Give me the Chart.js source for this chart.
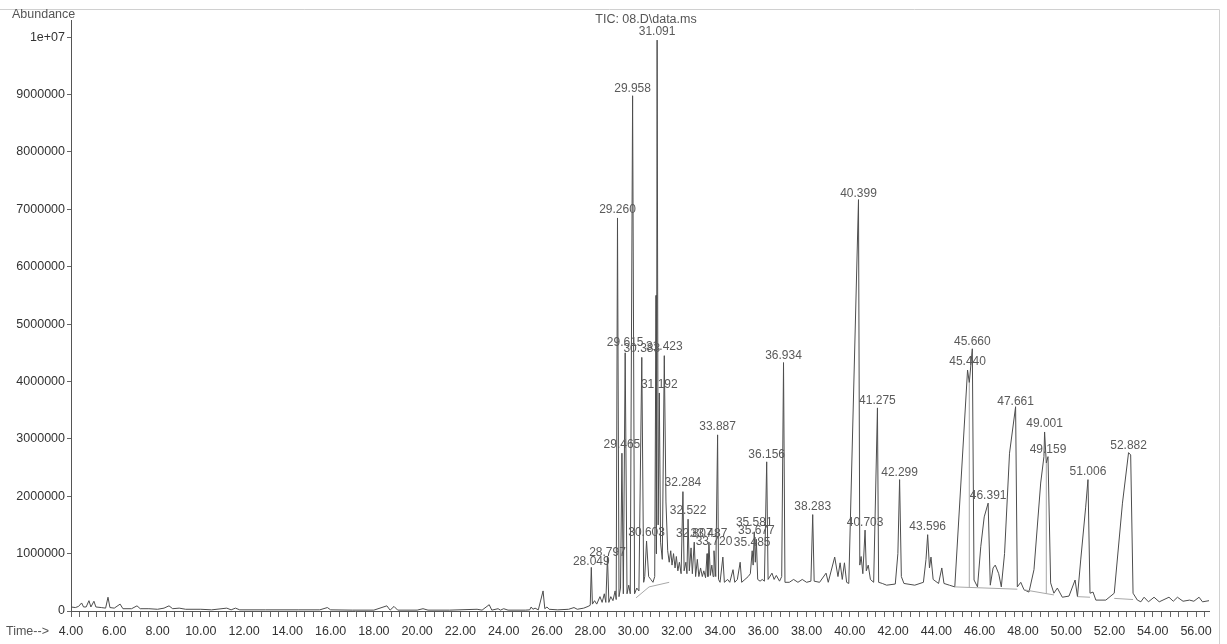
<!DOCTYPE html>
<html>
<head>
  <meta charset="utf-8">
  <title>TIC: 08.D\data.ms</title>
  <script src="https://cdn.jsdelivr.net/npm/chart.js"></script>
  <style>
    body { margin: 0; background: #fff; }
    canvas { display: block; }
  </style>
</head>
<body>
  <canvas id="tic" width="1227" height="644"></canvas>

  <script>
    // trace points: [time (min), abundance (millions)]
    const traceEarly = [
      [4.00,0.07],[4.20,0.06],[4.35,0.08],[4.49,0.14],[4.58,0.07],[4.70,0.07],[4.83,0.18],[4.92,0.07],
      [5.06,0.17],[5.15,0.07],[5.40,0.06],[5.60,0.05],[5.71,0.24],[5.80,0.06],[6.00,0.05],[6.27,0.12],
      [6.40,0.04],[6.80,0.04],[7.05,0.09],[7.20,0.04],[7.60,0.04],[8.00,0.03],[8.30,0.05],[8.53,0.09],
      [8.70,0.04],[9.00,0.05],[9.30,0.03],[10.0,0.03],[10.5,0.02],[11.2,0.05],[11.4,0.02],[11.6,0.05],
      [11.8,0.02],[13.0,0.02],[14.5,0.02],[15.5,0.02],[15.85,0.06],[16.0,0.02],[17.0,0.015],[18.0,0.015],
      [18.6,0.09],[18.75,0.015],[18.93,0.08],[19.1,0.015],[20.0,0.015],[20.27,0.04],[20.5,0.015],[21.5,0.015],
      [22.77,0.03],[23.0,0.015],[23.33,0.11],[23.45,0.015],[23.74,0.04],[23.85,0.015],[24.0,0.04],[24.2,0.015],
      [25.0,0.015],[25.2,0.02],[25.27,0.07],[25.35,0.03],[25.45,0.05],[25.6,0.02],[25.82,0.35],[25.9,0.04],
      [26.0,0.07],[26.1,0.03],[26.5,0.02],[27.0,0.03],[27.25,0.06],[27.4,0.03],[27.7,0.05],[27.9,0.08]
    ];
    const traceMain = [
      [28.0,0.10],[28.049,0.76],[28.10,0.12],[28.20,0.18],[28.30,0.12],[28.45,0.25],[28.55,0.15],[28.65,0.30],
      [28.72,0.15],[28.797,0.95],[28.86,0.15],[28.95,0.25],[29.05,0.18],[29.15,0.35],[29.20,0.20],[29.26,6.85],
      [29.33,0.25],[29.40,0.40],[29.465,2.75],[29.53,0.30],[29.615,4.50],[29.70,0.30],[29.78,0.45],[29.85,0.30],
      [29.958,8.98],[30.05,0.30],[30.15,0.40],[30.25,0.35],[30.383,4.42],[30.47,0.50],[30.52,0.60],[30.603,1.22],
      [30.70,0.60],[30.80,0.55],[30.90,0.50],[30.98,0.60],[31.04,5.50],[31.06,1.00],[31.091,9.95],[31.14,1.50],
      [31.192,3.80],[31.25,1.20],[31.33,0.90],[31.423,4.45],[31.50,1.90]
    ];
    const traceHump = [
      [31.58,1.05],[31.65,0.85],[31.72,1.05],[31.78,0.80],[31.85,1.00],[31.92,0.75],[31.98,0.95],[32.05,0.70],
      [32.12,0.85],[32.20,0.65],[32.284,2.08],[32.34,0.70],[32.42,0.85],[32.47,0.65],[32.522,1.60],[32.58,0.70],
      [32.66,1.10],[32.72,0.65],[32.807,1.20],[32.87,0.60],[32.95,0.90],[33.02,0.60],[33.10,0.75],[33.18,0.60],
      [33.25,0.70],[33.33,0.58],[33.40,1.00],[33.44,0.60],[33.487,1.20],[33.55,0.62],[33.62,0.80],[33.68,0.60],
      [33.72,1.05],[33.80,0.60],[33.887,3.07],[33.93,0.55],[34.0,0.50],[34.13,0.94],[34.2,0.50],[34.35,0.55],
      [34.45,0.50],[34.6,0.72],[34.68,0.50],[34.8,0.55],[34.93,0.85],[35.0,0.50],[35.15,0.55],[35.3,0.60],
      [35.4,0.65],[35.485,1.05],[35.53,0.80],[35.581,1.38],[35.63,0.85],[35.677,1.25],[35.74,0.55],[35.85,0.52],
      [35.95,0.55],[36.05,0.52],[36.156,2.60],[36.22,0.55],[36.4,0.66],[36.5,0.55],[36.6,0.62],[36.75,0.52],
      [36.85,0.60],[36.934,4.33],[37.0,0.50],[37.2,0.50],[37.4,0.55],[37.6,0.50],[37.8,0.55],[38.0,0.50],
      [38.2,0.52],[38.283,1.68],[38.35,0.52],[38.6,0.50],[38.9,0.66],[39.0,0.50],[39.3,0.94],[39.45,0.60],
      [39.55,0.84],[39.65,0.55],[39.75,0.84],[39.85,0.50],[39.95,0.48]
    ];
    const traceLate = [
      [40.399,7.17],[40.46,0.80],[40.52,0.95],[40.60,0.65],[40.703,1.41],[40.76,0.70],[40.85,0.80],[40.95,0.55],
      [41.1,0.50],[41.275,3.54],[41.33,0.50],[41.5,0.48],[41.7,0.45],[42.1,0.47],[42.22,1.00],[42.299,2.29],
      [42.38,0.60],[42.5,0.48],[43.0,0.45],[43.4,0.50],[43.52,0.90],[43.596,1.33],[43.68,0.75],[43.75,0.94],
      [43.85,0.55],[44.1,0.48],[44.25,0.75],[44.35,0.48],[44.6,0.45],[44.85,0.42],[45.44,4.20],[45.52,3.98],
      [45.66,4.57],[45.74,0.54],[45.9,0.42],[46.05,1.12],[46.21,1.64],[46.391,1.88],[46.49,0.45],[46.62,0.75],
      [46.72,0.80],[46.88,0.65],[47.0,0.42],[47.15,1.00],[47.38,2.75],[47.661,3.56],[47.74,0.42],[47.9,0.50],
      [48.05,0.37],[48.28,0.33],[48.51,0.72],[48.82,2.23],[48.97,2.69],[49.001,3.12],[49.08,2.58],[49.159,2.69],
      [49.28,0.49],[49.43,0.31],[49.59,0.40],[49.82,0.24],[50.13,0.26],[50.41,0.54],[50.52,0.25],[50.67,0.89],
      [50.9,1.81],[51.006,2.29],[51.1,0.31],[51.24,0.33],[51.37,0.19],[51.83,0.19],[52.22,0.31],[52.6,1.88],
      [52.882,2.76],[52.98,2.72],[53.09,0.31],[53.29,0.19],[53.45,0.16],[53.6,0.24],[53.8,0.16],[54.06,0.24],
      [54.3,0.16],[54.75,0.24],[54.95,0.17],[55.14,0.24],[55.4,0.17],[55.7,0.19],[55.9,0.17],[56.14,0.24],
      [56.3,0.16],[56.6,0.18]
    ];

    // integration baselines and drop lines (null = gap)
    const baseSegs = [
      [30.12,0.23],[30.72,0.42],[31.65,0.50], null,
      [44.85,0.42],[47.74,0.38], null,
      [45.52,0.41],[45.52,3.98], null,
      [48.05,0.37],[49.43,0.28], null,
      [49.08,0.30],[49.08,2.58], null,
      [50.52,0.25],[51.1,0.24], null,
      [52.22,0.22],[53.09,0.20]
    ];

    // peak labels and the height of their text (millions)
    const peakNames = ['28.049','28.797','29.260','29.465','29.615','29.958','30.383','30.603','31.091','31.192',
      '31.423','32.284','32.522','32.807','33.487','33.720','33.887','35.485','35.581','35.677','36.156','36.934',
      '38.283','40.399','40.703','41.275','42.299','43.596','45.440','45.660','46.391','47.661','49.001','49.159',
      '51.006','52.882'];
    const peakLabelY = [0.86,1.01,7.00,2.90,4.68,9.11,4.57,1.36,10.09,3.94,
      4.61,2.23,1.75,1.34,1.34,1.20,3.21,1.19,1.54,1.40,2.72,4.45,
      1.82,7.28,1.54,3.66,2.41,1.47,4.35,4.69,2.01,3.65,3.26,2.81,
      2.43,2.88];

    const yTickValues = [0,1e6,2e6,3e6,4e6,5e6,6e6,7e6,8e6,9e6,1e7];
    const yTickLabels = ['0','1000000','2000000','3000000','4000000','5000000','6000000','7000000','8000000','9000000','1e+07'];
    const xMajorValues = [4,6,8,10,12,14,16,18,20,22,24,26,28,30,32,34,36,38,40,42,44,46,48,50,52,54,56];
    const xTickLabels = ['4.00','6.00','8.00','10.00','12.00','14.00','16.00','18.00','20.00','22.00','24.00','26.00',
      '28.00','30.00','32.00','34.00','36.00','38.00','40.00','42.00','44.00','46.00','48.00','50.00','52.00','54.00','56.00'];
    const xMinorStep = 0.4;

    const FONT = '"Liberation Sans", Arial, sans-serif';
    const toPts = arr => arr.map(p => p ? { x: p[0], y: p[1] * 1e6 } : { x: NaN, y: null });
    const trace = toPts([].concat(traceEarly, traceMain, traceHump, traceLate));

    const textPlugin = {
      id: 'textPlugin',
      afterDatasetsDraw(chart) {
        const c = chart.ctx;
        const xs = chart.scales.x, ys = chart.scales.y;
        c.save();
        // page frame
        c.strokeStyle = '#d0d0d0';
        c.lineWidth = 1;
        c.beginPath();
        c.moveTo(0, 9.5); c.lineTo(1219.5, 9.5); c.lineTo(1219.5, 644);
        c.stroke();

        c.font = '12.5px ' + FONT;
        c.fillStyle = '#555';
        c.textBaseline = 'middle';
        c.textAlign = 'left';
        c.fillText('Abundance', 12, 15);
        c.fillText('Time-->', 6, 632);
        c.textAlign = 'center';
        c.fillText('TIC: 08.D\\data.ms', 646, 20);

        c.font = '12px ' + FONT;
        c.fillStyle = '#5a5a5a';
        peakNames.forEach((name, i) => {
          const px = xs.getPixelForValue(parseFloat(name));
          const py = ys.getPixelForValue(peakLabelY[i] * 1e6);
          c.fillText(name, px, py);
        });
        c.restore();
      }
    };

    new Chart(document.getElementById('tic').getContext('2d'), {
      type: 'scatter',
      data: {
        datasets: [
          {
            data: toPts(baseSegs),
            showLine: true,
            spanGaps: false,
            borderColor: '#a8a8a8',
            borderWidth: 1,
            pointRadius: 0
          },
          {
            data: trace,
            showLine: true,
            borderColor: '#4d4d4d',
            borderWidth: 1,
            pointRadius: 0,
            tension: 0
          }
        ]
      },
      options: {
        responsive: false,
        animation: false,
        devicePixelRatio: 1,
        layout: { padding: { top: 20, right: 18, left: 0, bottom: 0 } },
        plugins: { legend: { display: false }, tooltip: { enabled: false } },
        scales: {
          x: {
            type: 'linear',
            bounds: 'data',
            min: 4,
            max: 56.6,
            afterFit: s => { s.height = 33; },
            afterBuildTicks: s => {
              const t = [];
              xMajorValues.forEach(m => {
                for (let k = 0; k < 5; k++) {
                  const v = +(m + k * xMinorStep).toFixed(2);
                  if (v <= 56.6) t.push({ value: v });
                }
              });
              s.ticks = t;
            },
            border: { color: '#555' },
            grid: { drawOnChartArea: false, drawTicks: true, tickLength: 6, color: '#666' },
            ticks: {
              autoSkip: false,
              maxRotation: 0,
              padding: 7,
              color: '#333',
              font: { family: FONT, size: 12.5 },
              callback: v => {
                const i = xMajorValues.indexOf(v);
                return i >= 0 ? xTickLabels[i] : '';
              }
            }
          },
          y: {
            bounds: 'data',
            min: 0,
            max: 10.3e6,
            afterFit: s => { s.width = 71; },
            afterBuildTicks: s => { s.ticks = yTickValues.map(v => ({ value: v })); },
            border: { color: '#555' },
            grid: { drawOnChartArea: false, drawTicks: true, tickLength: 4, color: '#666' },
            ticks: {
              autoSkip: false,
              padding: 2,
              color: '#333',
              font: { family: FONT, size: 12.5 },
              callback: v => yTickLabels[yTickValues.indexOf(v)]
            }
          }
        }
      },
      plugins: [textPlugin]
    });
  </script>
</body>
</html>
